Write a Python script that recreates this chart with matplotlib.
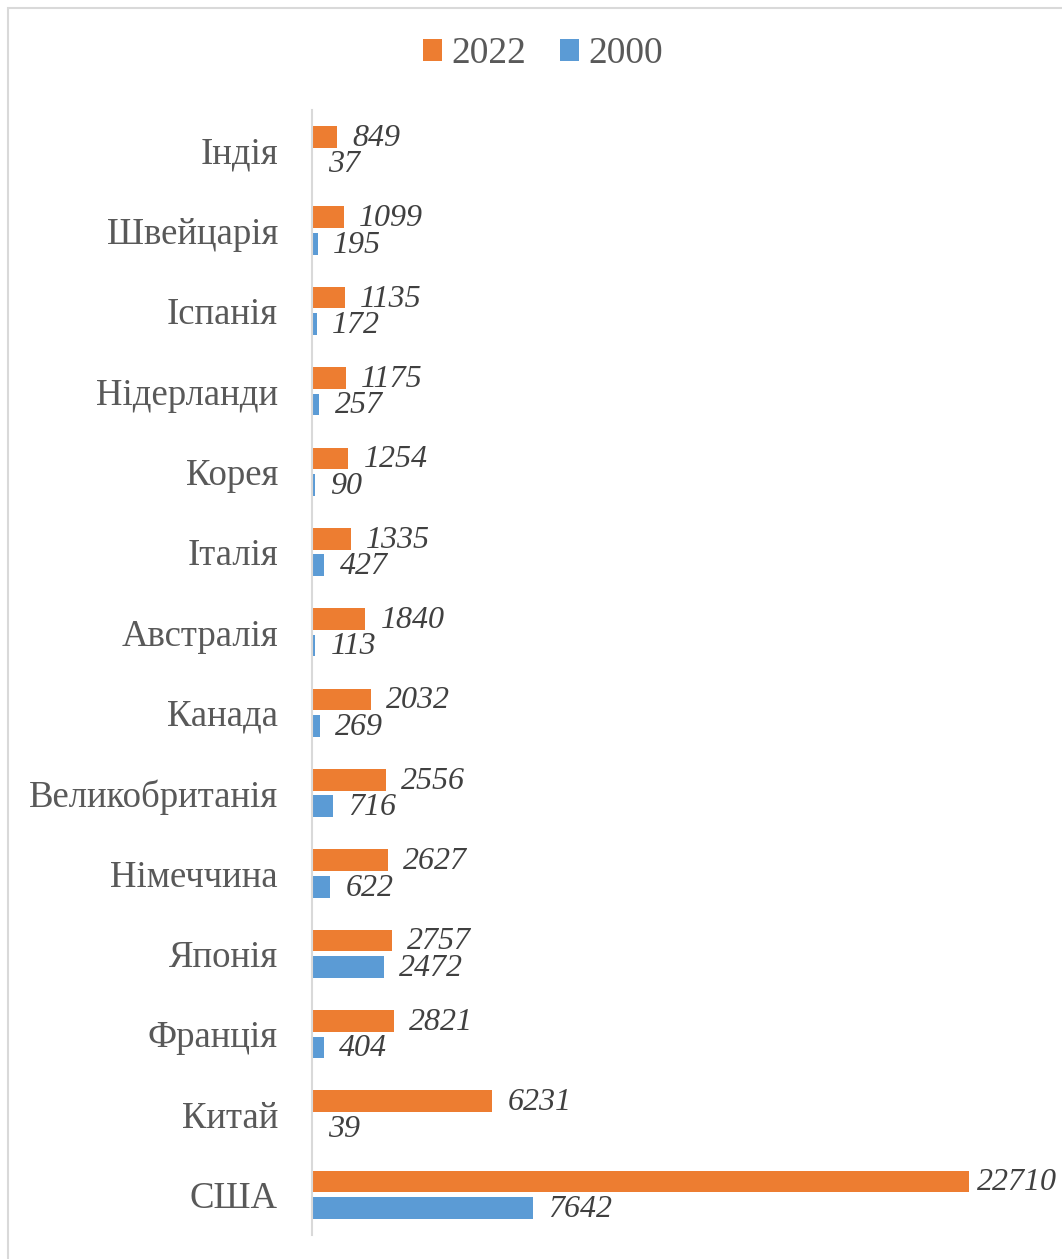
import numpy as np
import matplotlib.pyplot as plt
from matplotlib.patches import Rectangle

countries = ['Індія', 'Швейцарія', 'Іспанія', 'Нідерланди', 'Корея', 'Італія',
             'Австралія', 'Канада', 'Великобританія', 'Німеччина', 'Японія',
             'Франція', 'Китай', 'США']
v2022 = [849, 1099, 1135, 1175, 1254, 1335, 1840, 2032, 2556, 2627, 2757, 2821, 6231, 22710]
v2000 = [37, 195, 172, 257, 90, 427, 113, 269, 716, 622, 2472, 404, 39, 7642]

orange = '#ED7D31'
blue = '#5B9BD5'
txt = '#595959'

plt.rcParams['font.family'] = ['Liberation Serif', 'DejaVu Serif']

W, H = 1062, 1259
fig = plt.figure(figsize=(W / 100, H / 100), dpi=100)
fig.patches.append(Rectangle((8 / W, -0.1), 1.2, 1 - 8 / H + 0.1, transform=fig.transFigure,
                             fill=False, edgecolor='#D9D9D9', linewidth=1.5))

ax = fig.add_axes([312 / W, 1 - 1235 / H, 1 - 312 / W, (1235 - 110) / H])

y = np.arange(len(countries))
h = 0.27
off = 0.165
b1 = ax.barh(y - off, v2022, height=h, color=orange, label='2022')
b2 = ax.barh(y + off, v2000, height=h, color=blue, label='2000')

vmax = max(v2022)
for vals, yy in ((v2022, y - off), (v2000, y + off)):
    for v, yc in zip(vals, yy):
        # the biggest label is pulled in so it stays inside the frame
        dx = 5.5 if v == vmax else 11
        ax.annotate(str(v), (v, yc), xytext=(dx, -1), textcoords='offset points',
                    va='center', ha='left', fontsize=23, style='italic', color='#404040')

ax.set_ylim(len(countries) - 0.5, -0.5)
ax.set_xlim(0, 750 / 0.02893)
ax.set_yticks(y)
ax.set_yticklabels(countries, fontsize=26.5, color=txt)
ax.tick_params(axis='y', length=0, pad=24.5)
ax.set_xticks([])
for s in ['top', 'right', 'bottom']:
    ax.spines[s].set_visible(False)
ax.spines['left'].set_color('#D9D9D9')
ax.spines['left'].set_linewidth(1.5)

fig.legend(handles=[b1, b2], loc='center', bbox_to_anchor=(543 / W, 1 - 54 / H), ncol=2,
           frameon=False, fontsize=27, labelcolor=txt, handlelength=0.5, handleheight=0.55,
           handletextpad=0.25, columnspacing=0.9)

fig.savefig('out.png', dpi=100)
